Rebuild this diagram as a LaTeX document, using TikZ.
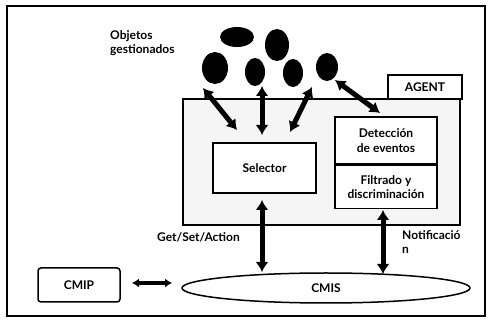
\documentclass[tikz,border=0pt]{standalone}
\usepackage{fontspec}
\setmainfont{Lato}
\usetikzlibrary{arrows.meta, shapes.geometric}

\begin{document}
\begin{tikzpicture}[x = 1pt, y = -1pt,
    obj/.style = {ellipse, fill = black, inner sep = 0pt},
    lbl/.style = {font = \bfseries\fontsize{12}{14.5}\selectfont, align = center},
    box/.style = {draw, line width = 1.5pt, fill = white, lbl},
    dbl/.style = {line width = 5pt, {Latex[length=10pt,width=13pt]}-{Latex[length=10pt,width=13pt]}}]
    \useasboundingbox (0,0) rectangle (490,328);
    \draw[line width = 1.5pt] (7,6) rectangle (485,316);
    % Objetos gestionados
    \node[obj, minimum width = 34pt, minimum height = 20pt] (o1) at (237,37) {};
    \node[obj, minimum width = 24pt, minimum height = 32pt] (o2) at (277,45) {};
    \node[obj, minimum width = 26pt, minimum height = 32pt] (o3) at (215,68) {};
    \node[obj, minimum width = 20pt, minimum height = 28pt] (o4) at (255,72) {};
    \node[obj, minimum width = 20pt, minimum height = 28pt] (o5) at (293,73) {};
    \node[obj, minimum width = 22pt, minimum height = 28pt] (o6) at (327,67) {};
    \node[lbl, align = left, anchor = north west, inner sep = 0pt] (objlbl) at (110,30) {Objetos\\gestionados};
    % Agent
    \draw[line width = 1.5pt, fill = black!4] (183,99) rectangle (460,225);
    \node[box, minimum width = 74pt, minimum height = 24pt] (agent) at (425,87) {AGENT};
    \node[box, minimum width = 103pt, minimum height = 50pt] (sel) at (264.5,168) {Selector};
    \node[box, minimum width = 102pt, minimum height = 47pt] (det) at (386,140.5) {Detección\\de eventos};
    \node[box, minimum width = 102pt, minimum height = 43pt, anchor = north] (fil) at (det.south) {Filtrado y\\discriminación};
    % CMIS / CMIP
    \node[draw, line width = 1.5pt, ellipse, minimum width = 288pt, minimum height = 30pt, lbl] (cmis) at (326,288) {CMIS};
    \node[draw, line width = 1.5pt, rounded corners = 3pt, minimum width = 82pt, minimum height = 34pt, lbl] (cmip) at (79,285) {CMIP};
    \coordinate (a1) at (203,88);
    \coordinate (b1) at (237,130);
    \coordinate (a2) at (262,86);
    \coordinate (b2) at (262,135);
    \coordinate (a3) at (312,87);
    \coordinate (b3) at (290,132);
    \coordinate (a4) at (335,80);
    \coordinate (b4) at (380,113);
    \coordinate (a5) at (262,200);
    \coordinate (b5) at (262,272);
    \coordinate (a6) at (383,210);
    \coordinate (b6) at (383,274);
    \coordinate (a7) at (132,283);
    \coordinate (b7) at (172,283);
    \draw[dbl] (a1) -- (b1);
    \draw[dbl] (a2) -- (b2);
    \draw[dbl] (a3) -- (b3);
    \draw[dbl] (a4) -- (b4);
    \draw[dbl] (a5) -- (b5);
    \draw[dbl] (a6) -- (b6);
    \draw[line width = 3.5pt, {Latex[length=7pt,width=9pt]}-{Latex[length=7pt,width=9pt]}] (a7) -- (b7);
    % Labels
    \node[lbl, anchor = west, inner sep = 0pt] (gsa) at (157,237) {Get/Set/Action};
    \node[lbl, align = left, anchor = north west, inner sep = 0pt] (notif) at (402,230) {Notificació\\n};
\end{tikzpicture}
\end{document}
